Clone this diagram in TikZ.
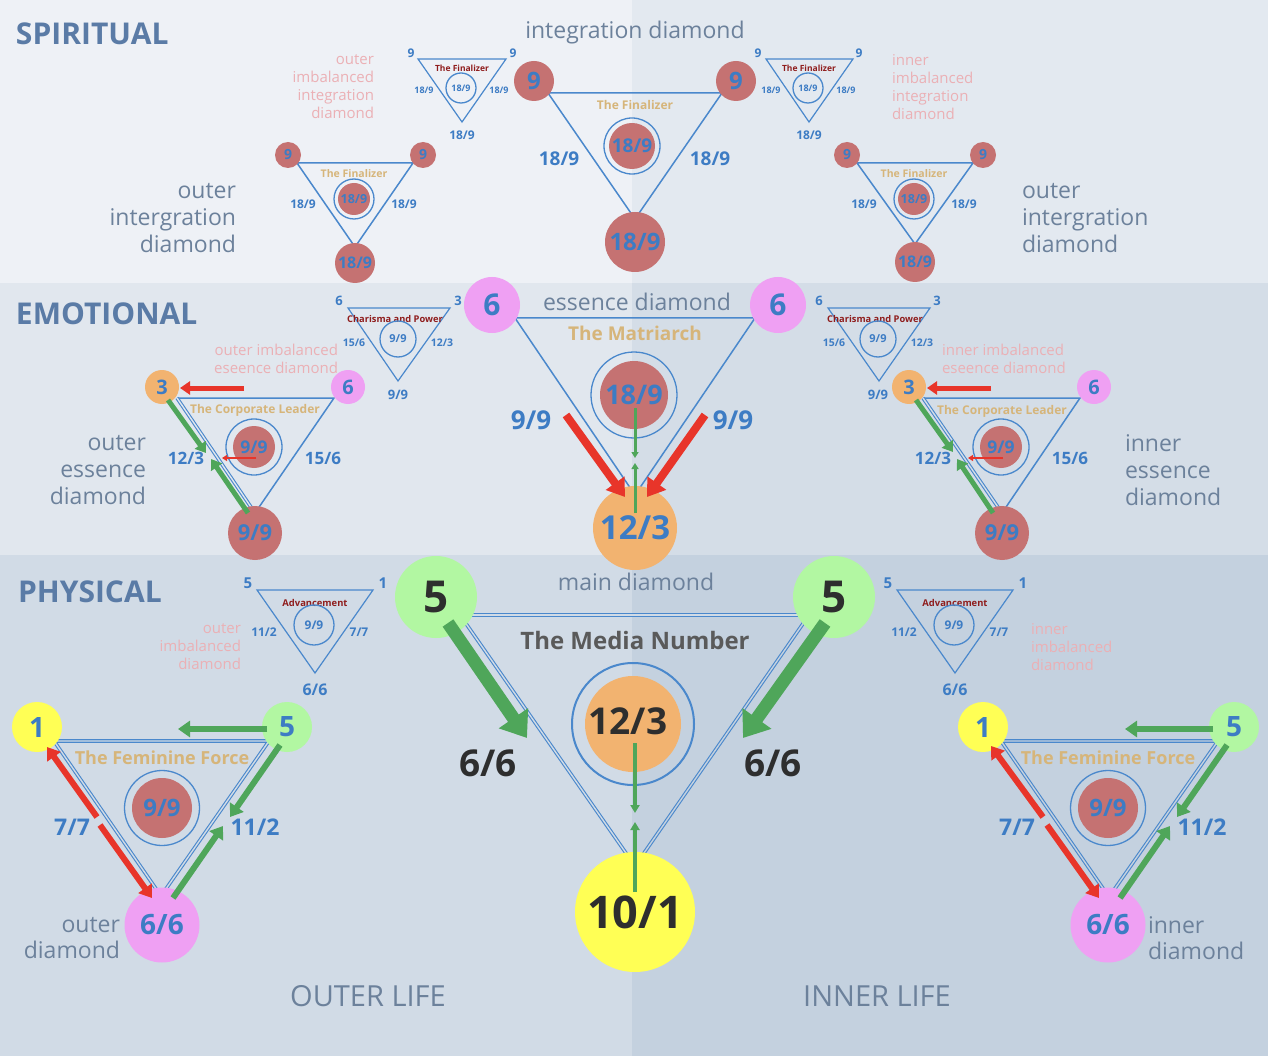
\documentclass[tikz,border=0pt]{standalone}
\usepackage{fontspec}
\setmainfont{Open Sans}
\usetikzlibrary{arrows.meta}
\definecolor{bgSL}{HTML}{EEF1F6}
\definecolor{bgSR}{HTML}{E3E9F0}
\definecolor{bgEL}{HTML}{E1E7EE}
\definecolor{bgER}{HTML}{D4DDE7}
\definecolor{bgPL}{HTML}{D1DBE6}
\definecolor{bgPR}{HTML}{C4D1DF}
\definecolor{hdrc}{HTML}{5A7BA6}
\definecolor{lblc}{HTML}{6C819B}
\definecolor{pinkt}{HTML}{EBB0B5}
\definecolor{numc}{HTML}{3D7CC4}
\definecolor{linec}{HTML}{4A88CC}
\definecolor{redn}{HTML}{C57272}
\definecolor{pinkn}{HTML}{EFA0F3}
\definecolor{orangen}{HTML}{F2B370}
\definecolor{yellown}{HTML}{FFFF55}
\definecolor{greenn}{HTML}{B2F7A2}
\definecolor{greena}{HTML}{4FA65A}
\definecolor{reda}{HTML}{E8352A}
\definecolor{goldt}{HTML}{D6B57A}
\definecolor{darkred}{HTML}{8F1D1D}
\definecolor{darkt}{HTML}{2E2E2E}
\definecolor{grayt}{HTML}{5A5A5A}
\newcommand\fs[1]{\fontsize{#1}{#1}\selectfont}
\begin{document}
\begin{tikzpicture}[x=1pt,y=-1pt,
  base/.style={inner sep=0pt, outer sep=0pt},
  dot/.style={base, circle, minimum size=#1},
  rdot/.style={dot=#1, fill=redn},
  pdot/.style={dot=#1, fill=pinkn},
  odot/.style={dot=#1, fill=orangen},
  ydot/.style={dot=#1, fill=yellown},
  gdot/.style={dot=#1, fill=greenn},
  ring/.style={dot=#1, draw=linec, line width=1.3pt},
  num/.style={base, text=numc, font=\bfseries\fs{#1}},
  dnum/.style={base, text=darkt, font=\bfseries\fs{#1}},
  gold/.style={base, text=goldt, font=\bfseries\fs{#1}},
  dred/.style={base, text=darkred, font=\bfseries\fs{#1}},
  hdr/.style={base, anchor=base west, text=hdrc, font=\bfseries\fs{30}},
  lbl/.style={base, text=lblc, font=\fs{23}},
  mlbl/.style={base, text=lblc, font=\fontsize{23}{27}\selectfont, align=#1},
  plbl/.style={base, text=pinkt, font=\fontsize{15}{18}\selectfont, align=#1},
  tri/.style={draw=linec, line width=1.5pt},
  tril/.style={draw=linec, line width=1.2pt},
  dbl/.style={draw=linec, line width=1.1pt, double=#1, double distance=1.4pt},
  rarr/.style={draw=reda, line width=#1},
  garr/.style={draw=greena, line width=#1},
]
% ---------- backgrounds ----------
\fill[bgSL] (0,0) rectangle (632,283);
\fill[bgSR] (632,0) rectangle (1268,283);
\fill[bgEL] (0,283) rectangle (632,555);
\fill[bgER] (632,283) rectangle (1268,555);
\fill[bgPL] (0,555) rectangle (632,1056);
\fill[bgPR] (632,555) rectangle (1268,1056);
\useasboundingbox (0,0) rectangle (1268,1056);

% =================== SPIRITUAL ===================
\node[hdr] (hS) at (16,45) {SPIRITUAL};
\node[lbl] (tInt) at (635,33) {integration diamond};

% main integration diamond
\coordinate (mA) at (548,93); \coordinate (mB) at (722,93); \coordinate (mC) at (635,219);
\draw[tri] (mA) -- (mB) -- (mC) -- cycle;
\node[rdot=40, num=24] (m9L) at (534,81) {9};
\node[rdot=40, num=24] (m9R) at (736,81) {9};
\node[rdot=60, num=24] (m18) at (635,242) {18/9};
\node[gold=12] (mT) at (635,105) {The Finalizer};
\node[ring=56] (mRing) at (632,146) {};
\node[rdot=46, num=19] (mIn) at (632,146) {18/9};
\node[num=19] (mE1) at (559,159) {18/9};
\node[num=19] (mE2) at (710,159) {18/9};

% mini finalizer left
\coordinate (fLa) at (418,59); \coordinate (fLb) at (506,59); \coordinate (fLc) at (462,122);
\draw[tril] (fLa) -- (fLb) -- (fLc) -- cycle;
\node[num=12] (fL9a) at (411,53) {9};
\node[num=12] (fL9b) at (513,53) {9};
\node[dred=8.5] (fLT) at (462,68) {The Finalizer};
\node[ring=30, num=9] (fLR) at (461,88) {18/9};
\node[num=9] (fLs1) at (424,90) {18/9};
\node[num=9] (fLs2) at (499,90) {18/9};
\node[num=12] (fLbt) at (462,135) {18/9};

% mini finalizer right
\coordinate (fRa) at (766,59); \coordinate (fRb) at (853,59); \coordinate (fRc) at (809,122);
\draw[tril] (fRa) -- (fRb) -- (fRc) -- cycle;
\node[num=12] (fR9a) at (758,53) {9};
\node[num=12] (fR9b) at (859,53) {9};
\node[dred=8.5] (fRT) at (809,68) {The Finalizer};
\node[ring=30, num=9] (fRR) at (808,88) {18/9};
\node[num=9] (fRs1) at (771,90) {18/9};
\node[num=9] (fRs2) at (846,90) {18/9};
\node[num=12] (fRbt) at (809,135) {18/9};

\node[plbl=right, anchor=east] (pInL) at (374,87) {outer\\imbalanced\\integration\\diamond};
\node[plbl=left, anchor=west] (pInR) at (892,87) {inner\\imbalanced\\integration\\diamond};

% medium integration left
\coordinate (iLa) at (297,163); \coordinate (iLb) at (413,163); \coordinate (iLc) at (355,247);
\draw[tri] (iLa) -- (iLb) -- (iLc) -- cycle;
\node[rdot=26, num=14] (iL9a) at (288,155) {9};
\node[rdot=26, num=14] (iL9b) at (423,155) {9};
\node[rdot=40, num=16] (iL18) at (355,263) {18/9};
\node[gold=10.5] (iLT) at (354,174) {The Finalizer};
\node[ring=40] (iLR) at (354,199) {};
\node[rdot=32, num=12.5] (iLIn) at (354,199) {18/9};
\node[num=12] (iLs1) at (303,204) {18/9};
\node[num=12] (iLs2) at (404,204) {18/9};
\node[mlbl=right, anchor=east] (lIntL) at (236,218) {outer\\intergration\\diamond};

% medium integration right
\coordinate (iRa) at (857,163); \coordinate (iRb) at (973,163); \coordinate (iRc) at (915,244);
\draw[tri] (iRa) -- (iRb) -- (iRc) -- cycle;
\node[rdot=26, num=14] (iR9a) at (847,155) {9};
\node[rdot=26, num=14] (iR9b) at (983,155) {9};
\node[rdot=40, num=16] (iR18) at (915,262) {18/9};
\node[gold=10.5] (iRT) at (914,174) {The Finalizer};
\node[ring=40] (iRR) at (914,199) {};
\node[rdot=32, num=12.5] (iRIn) at (914,199) {18/9};
\node[num=12] (iRs1) at (864,204) {18/9};
\node[num=12] (iRs2) at (964,204) {18/9};
\node[mlbl=left, anchor=west] (lIntR) at (1022,218) {outer\\intergration\\diamond};

% =================== EMOTIONAL ===================
\node[hdr] (hE) at (16,325) {EMOTIONAL};
\node[lbl] (tEss) at (637,302) {essence diamond};

% matriarch
\coordinate (eA) at (515,318); \coordinate (eB) at (755,318); \coordinate (eC) at (635,495);
\draw[tri] (eA) -- (eB) -- (eC) -- cycle;
\node[pdot=56, num=30] (e6L) at (492,305) {6};
\node[pdot=56, num=30] (e6R) at (778,305) {6};
\node[odot=84, num=33] (e12) at (635,528) {12/3};
\node[gold=19] (eT) at (635,333) {The Matriarch};
\node[ring=86] (eRing) at (634,395) {};
\node[rdot=68, num=27] (eIn) at (634,395) {18/9};
\node[num=26] (eL1) at (531,420) {9/9};
\node[num=26] (eL2) at (733,420) {9/9};
\coordinate (eg1s) at (635,408); \coordinate (eg1e) at (635,458);
\coordinate (eg2s) at (635,513); \coordinate (eg2e) at (635,463);
\draw[garr=3pt, -{Triangle[length=6pt, width=7pt]}] (eg1s) -- (eg1e);
\draw[garr=3pt, -{Triangle[length=6pt, width=7pt]}] (eg2s) -- (eg2e);
\coordinate (er1s) at (566,415); \coordinate (er1e) at (625,497);
\coordinate (er2s) at (705,415); \coordinate (er2e) at (647,497);
\draw[rarr=8pt, -{Triangle[length=17pt, width=22pt]}] (er1s) -- (er1e);
\draw[rarr=8pt, -{Triangle[length=17pt, width=22pt]}] (er2s) -- (er2e);

% charisma mini left
\coordinate (cLa) at (348,308); \coordinate (cLb) at (450,308); \coordinate (cLc) at (398,381);
\draw[tril] (cLa) -- (cLb) -- (cLc) -- cycle;
\node[num=13] (cL6) at (339,301) {6};
\node[num=13] (cL3) at (458,301) {3};
\node[dred=9.3] (cLT) at (395,319) {Charisma and Power};
\node[ring=36, num=11] (cLR) at (398,339) {9/9};
\node[num=10.5] (cLs1) at (354,343) {15/6};
\node[num=10.5] (cLs2) at (442,343) {12/3};
\node[num=13] (cLbt) at (398,395) {9/9};

% charisma mini right
\coordinate (cRa) at (828,308); \coordinate (cRb) at (930,308); \coordinate (cRc) at (879,381);
\draw[tril] (cRa) -- (cRb) -- (cRc) -- cycle;
\node[num=13] (cR6) at (819,301) {6};
\node[num=13] (cR3) at (937,301) {3};
\node[dred=9.3] (cRT) at (875,319) {Charisma and Power};
\node[ring=36, num=11] (cRR) at (878,339) {9/9};
\node[num=10.5] (cRs1) at (834,343) {15/6};
\node[num=10.5] (cRs2) at (922,343) {12/3};
\node[num=13] (cRbt) at (878,395) {9/9};

% corporate leader left
\coordinate (kLa) at (177,398); \coordinate (kLb) at (334,398); \coordinate (kLc) at (255,513);
\draw[tri] (kLa) -- (kLb) -- (kLc);
\draw[dbl=bgEL] (kLa) -- (kLc);
\node[odot=34, num=20] (kL3) at (162,387) {3};
\node[pdot=34, num=20] (kL6) at (348,387) {6};
\node[rdot=54, num=22] (kL9) at (255,533) {9/9};
\node[gold=12] (kLT) at (255,410) {The Corporate Leader};
\node[ring=56] (kLR) at (254,447) {};
\node[rdot=42, num=17.5] (kLIn) at (254,447) {9/9};
\node[num=17] (kLs1) at (186,458) {12/3};
\node[num=17] (kLs2) at (323,458) {15/6};
\coordinate (kLr1s) at (244,388); \coordinate (kLr1e) at (180,388);
\coordinate (kLr2s) at (256,458); \coordinate (kLr2e) at (222,458);
\coordinate (kLg1s) at (168,400); \coordinate (kLg1e) at (206,453);
\coordinate (kLg2s) at (248,513); \coordinate (kLg2e) at (211,459);
\draw[rarr=5pt, -{Triangle[length=10pt, width=13pt]}] (kLr1s) -- (kLr1e);
\draw[rarr=2pt, -{Triangle[length=5pt, width=6pt]}] (kLr2s) -- (kLr2e);
\draw[garr=5pt, -{Triangle[length=10pt, width=13pt]}] (kLg1s) -- (kLg1e);
\draw[garr=5pt, -{Triangle[length=10pt, width=13pt]}] (kLg2s) -- (kLg2e);
\node[plbl=right, anchor=east] (pEsL) at (338,359) {outer imbalanced\\eseence diamond};
\node[mlbl=right, anchor=east] (lEsL) at (146,470) {outer\\essence\\diamond};

% corporate leader right
\coordinate (kRa) at (923,398); \coordinate (kRb) at (1080,398); \coordinate (kRc) at (1002,513);
\draw[tri] (kRa) -- (kRb) -- (kRc);
\draw[dbl=bgER] (kRa) -- (kRc);
\node[odot=34, num=20] (kR3) at (909,387) {3};
\node[pdot=34, num=20] (kR6) at (1094,387) {6};
\node[rdot=54, num=22] (kR9) at (1002,533) {9/9};
\node[gold=12] (kRT) at (1002,411) {The Corporate Leader};
\node[ring=56] (kRR) at (1001,447) {};
\node[rdot=42, num=17.5] (kRIn) at (1001,447) {9/9};
\node[num=17] (kRs1) at (933,458) {12/3};
\node[num=17] (kRs2) at (1070,458) {15/6};
\coordinate (kRr1s) at (991,388); \coordinate (kRr1e) at (927,388);
\coordinate (kRr2s) at (1003,458); \coordinate (kRr2e) at (968,458);
\coordinate (kRg1s) at (916,400); \coordinate (kRg1e) at (953,452);
\coordinate (kRg2s) at (993,513); \coordinate (kRg2e) at (957,459);
\draw[rarr=5pt, -{Triangle[length=10pt, width=13pt]}] (kRr1s) -- (kRr1e);
\draw[rarr=2pt, -{Triangle[length=5pt, width=6pt]}] (kRr2s) -- (kRr2e);
\draw[garr=5pt, -{Triangle[length=10pt, width=13pt]}] (kRg1s) -- (kRg1e);
\draw[garr=5pt, -{Triangle[length=10pt, width=13pt]}] (kRg2s) -- (kRg2e);
\node[plbl=left, anchor=west] (pEsR) at (942,359) {inner imbalanced\\eseence diamond};
\node[mlbl=left, anchor=west] (lEsR) at (1125,470) {inner\\essence\\diamond};

% =================== PHYSICAL ===================
\node[hdr] (hP) at (18,602) {PHYSICAL};
\node[lbl] (tMain) at (636,582) {main diamond};

% media number
\coordinate (nA) at (460,615); \coordinate (nB) at (809,615); \coordinate (nC) at (635,866);
\draw[dbl=bgPL] (nA) -- (nB);
\draw[dbl=bgPL] (nA) -- (nC);
\draw[dbl=bgPR] (nB) -- (nC);
\node[gdot=82, dnum=44] (n5L) at (436,597) {5};
\node[gdot=82, dnum=44] (n5R) at (834,597) {5};
\node[ydot=120, dnum=45] (n10) at (635,912) {10/1};
\node[base, text=grayt, font=\bfseries\fs{24}] (nT) at (635,640) {The Media Number};
\node[ring=122, line width=2pt] (nRing) at (633,724) {};
\node[odot=96] (nIn) at (633,724) {};
\node[dnum=37] (nInT) at (628,721) {12/3};
\node[dnum=37] (nL1) at (488,763) {6/6};
\node[dnum=37] (nL2) at (773,763) {6/6};
\coordinate (ng1s) at (448,623); \coordinate (ng1e) at (527,738);
\coordinate (ng2s) at (825,623); \coordinate (ng2e) at (743,738);
\draw[garr=13pt, -{Triangle[length=24pt, width=34pt]}] (ng1s) -- (ng1e);
\draw[garr=13pt, -{Triangle[length=24pt, width=34pt]}] (ng2s) -- (ng2e);
\coordinate (ng3s) at (635,743); \coordinate (ng3e) at (635,813);
\coordinate (ng4s) at (635,892); \coordinate (ng4e) at (635,822);
\draw[garr=4pt, -{Triangle[length=8pt, width=9pt]}] (ng3s) -- (ng3e);
\draw[garr=4pt, -{Triangle[length=8pt, width=9pt]}] (ng4s) -- (ng4e);

% advancement mini left
\coordinate (aLa) at (257,590); \coordinate (aLb) at (373,590); \coordinate (aLc) at (315,673);
\draw[tril] (aLa) -- (aLb) -- (aLc) -- cycle;
\node[num=15] (aL5) at (248,583) {5};
\node[num=15] (aL1) at (383,583) {1};
\node[dred=9.4] (aLT) at (315,603) {Advancement};
\node[ring=40, num=12] (aLR) at (314,625) {9/9};
\node[num=12] (aLs1) at (264,632) {11/2};
\node[num=12] (aLs2) at (359,632) {7/7};
\node[num=16] (aLbt) at (315,690) {6/6};
\node[plbl=right, anchor=east] (pPhL) at (241,647) {outer\\imbalanced\\diamond};

% advancement mini right
\coordinate (aRa) at (897,590); \coordinate (aRb) at (1013,590); \coordinate (aRc) at (955,673);
\draw[tril] (aRa) -- (aRb) -- (aRc) -- cycle;
\node[num=15] (aR5) at (888,583) {5};
\node[num=15] (aR1) at (1023,583) {1};
\node[dred=9.4] (aRT) at (955,603) {Advancement};
\node[ring=40, num=12] (aRR) at (954,625) {9/9};
\node[num=12] (aRs1) at (904,632) {11/2};
\node[num=12] (aRs2) at (999,632) {7/7};
\node[num=16] (aRbt) at (955,690) {6/6};
\node[plbl=left, anchor=west] (pPhR) at (1031,647) {inner\\imbalanced\\diamond};

% feminine force left
\coordinate (gLa) at (54,741); \coordinate (gLb) at (269,741); \coordinate (gLc) at (161,896);
\draw[dbl=bgPL] (gLa) -- (gLb) -- (gLc) -- cycle;
\node[ydot=50, num=28] (gL1) at (37,727) {1};
\node[gdot=50, num=28] (gL5) at (287,727) {5};
\node[pdot=75, num=28] (gL6) at (162,925) {6/6};
\node[gold=18] (gLT) at (162,758) {The Feminine Force};
\node[ring=75] (gLR) at (162,808) {};
\node[rdot=60, num=24] (gLIn) at (162,808) {9/9};
\node[num=23] (gLs1) at (72,827) {7/7};
\node[num=23] (gLs2) at (255,827) {11/2};
\coordinate (gLg1s) at (267,729); \coordinate (gLg1e) at (178,729);
\coordinate (gLg2s) at (280,745); \coordinate (gLg2e) at (230,817);
\coordinate (gLg3s) at (173,898); \coordinate (gLg3e) at (223,826);
\coordinate (gLr1s) at (97,817);  \coordinate (gLr1e) at (47,747);
\coordinate (gLr2s) at (100,825); \coordinate (gLr2e) at (152,898);
\draw[garr=6pt, -{Triangle[length=12pt, width=16pt]}] (gLg1s) -- (gLg1e);
\draw[garr=6pt, -{Triangle[length=12pt, width=16pt]}] (gLg2s) -- (gLg2e);
\draw[garr=6pt, -{Triangle[length=12pt, width=16pt]}] (gLg3s) -- (gLg3e);
\draw[rarr=6pt, -{Triangle[length=12pt, width=16pt]}] (gLr1s) -- (gLr1e);
\draw[rarr=6pt, -{Triangle[length=12pt, width=16pt]}] (gLr2s) -- (gLr2e);
\node[mlbl=right, anchor=east, font=\fontsize{23}{26}\selectfont] (lDL) at (120,938) {outer\\diamond};

% feminine force right
\coordinate (gRa) at (1001,741); \coordinate (gRb) at (1218,741); \coordinate (gRc) at (1109,897);
\draw[dbl=bgPR] (gRa) -- (gRb) -- (gRc) -- cycle;
\node[ydot=50, num=28] (gR1) at (983,727) {1};
\node[gdot=50, num=28] (gR5) at (1234,727) {5};
\node[pdot=75, num=28] (gR6) at (1108,925) {6/6};
\node[gold=18] (gRT) at (1108,758) {The Feminine Force};
\node[ring=75] (gRR) at (1108,808) {};
\node[rdot=60, num=24] (gRIn) at (1108,808) {9/9};
\node[num=23] (gRs1) at (1017,827) {7/7};
\node[num=23] (gRs2) at (1202,827) {11/2};
\coordinate (gRg1s) at (1213,729); \coordinate (gRg1e) at (1125,729);
\coordinate (gRg2s) at (1227,745); \coordinate (gRg2e) at (1177,817);
\coordinate (gRg3s) at (1120,898); \coordinate (gRg3e) at (1170,826);
\coordinate (gRr1s) at (1043,817); \coordinate (gRr1e) at (991,746);
\coordinate (gRr2s) at (1047,825); \coordinate (gRr2e) at (1099,898);
\draw[garr=6pt, -{Triangle[length=12pt, width=16pt]}] (gRg1s) -- (gRg1e);
\draw[garr=6pt, -{Triangle[length=12pt, width=16pt]}] (gRg2s) -- (gRg2e);
\draw[garr=6pt, -{Triangle[length=12pt, width=16pt]}] (gRg3s) -- (gRg3e);
\draw[rarr=6pt, -{Triangle[length=12pt, width=16pt]}] (gRr1s) -- (gRr1e);
\draw[rarr=6pt, -{Triangle[length=12pt, width=16pt]}] (gRr2s) -- (gRr2e);
\node[mlbl=left, anchor=west, font=\fontsize{23}{26}\selectfont] (lDR) at (1148,938) {inner\\diamond};

\node[base, text=lblc, font=\fs{29}] (tOut) at (368,996) {OUTER LIFE};
\node[base, text=lblc, font=\fs{29}] (tInn) at (877,996) {INNER LIFE};
\end{tikzpicture}
\end{document}
